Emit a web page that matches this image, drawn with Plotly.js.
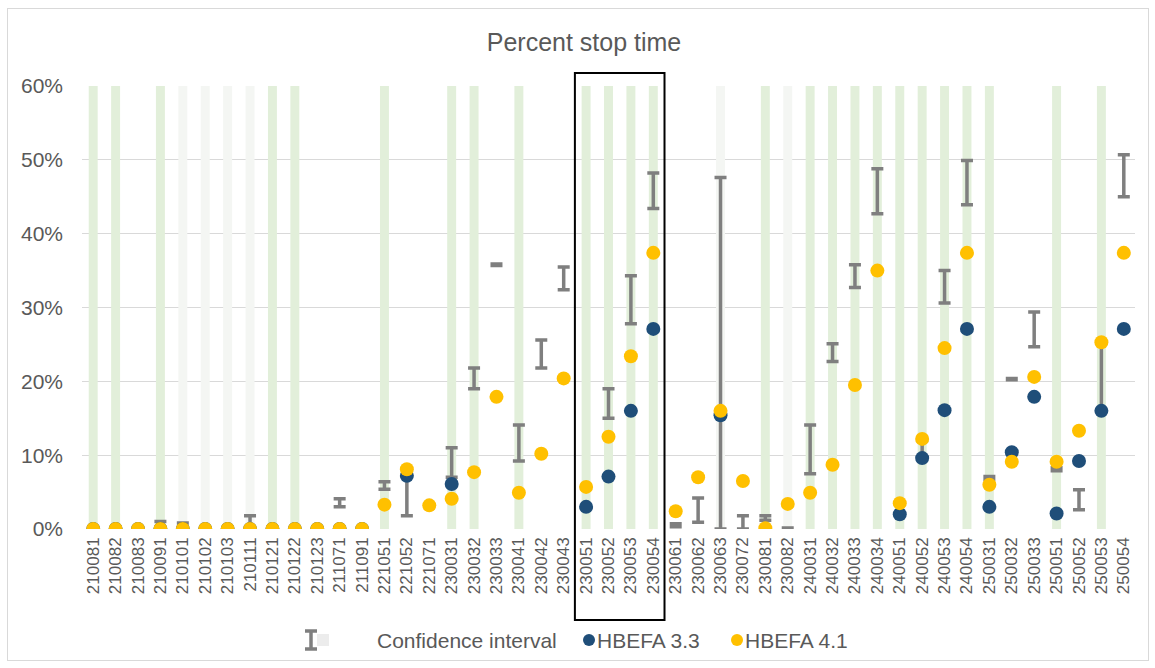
<!DOCTYPE html>
<html>
<head>
<meta charset="utf-8">
<script src="https://cdn.plot.ly/plotly-3.0.1.min.js"></script>
<style>
  html, body { margin: 0; padding: 0; background: #fff; }
  #wrap { position: relative; width: 1155px; height: 668px; }
  #chart { position: absolute; left: 0; top: 0; width: 1155px; height: 668px; }
  #frame { position: absolute; left: 7px; top: 8px; width: 1140px; height: 651px; border: 1px solid #d9d9d9; pointer-events: none; }
</style>
</head>
<body>
<div id="wrap"><div id="chart"></div><div id="frame"></div></div>
<script>
const categories = ['210081','210082','210083','210091','210101','210102','210103','210111','210121','210122','210123','211071','211091','221051','221052','221071','230031','230032','230033','230041','230042','230043','230051','230052','230053','230054','230061','230062','230063','230072','230081','230082','240031','240032','240033','240034','240051','240052','240053','240054','250031','250032','250033','250051','250052','250053','250054'];

const hbefa41 = [0,0,0,0,0,0,0,0,0,0,0,0,0,3.3,8.1,3.2,4.1,7.7,17.9,4.9,10.2,20.4,5.7,12.5,23.4,37.4,2.4,7.0,16.0,6.5,0.1,3.4,4.9,8.7,19.5,35.0,3.5,12.2,24.5,37.4,6.0,9.1,20.6,9.1,13.3,25.3,37.4];

const hbefa33 = [0,0,0,0,0,0,0,0,0,0,0,0,0,null,7.2,null,6.1,null,null,null,null,null,3.0,7.1,16.0,27.1,null,null,15.4,null,null,null,null,null,null,null,2.0,9.6,16.1,27.1,3.0,10.4,17.9,2.1,9.2,16.0,27.1];

const ciLow  = [null,null,null,0,0,null,null,0,null,null,null,3.0,null,5.4,1.8,null,7.0,19.0,35.7,9.2,21.8,32.4,null,15.0,27.8,43.4,0.3,0.9,0,0,1.2,0.05,7.5,22.7,32.7,42.7,null,9.8,30.6,43.9,6.7,20.2,24.7,7.9,2.6,16.0,45.0];
const ciHigh = [null,null,null,1.0,0.8,null,null,1.8,null,null,null,4.1,null,6.4,7.3,null,11.0,21.8,35.9,14.1,25.6,35.5,null,19.0,34.3,48.2,0.7,4.2,47.6,1.8,1.8,0.15,14.1,25.1,35.8,48.8,null,12.0,35.0,49.9,7.1,20.4,29.4,8.3,5.3,25.3,50.7];

// background column flags: 'g' = green, 'f' = faint grey, '' = none
const band = ['g','g','','g','f','f','f','f','g','g','','','','g','','','g','g','','g','','','g','g','g','g','','','f','','g','f','g','g','g','g','g','g','g','g','g','','','g','','g',''];

const highlightFrom = '230051';
const highlightTo = '230054';

const yMax = 60;
const grey = '#595959';
const font = 'Liberation Sans, Arial, sans-serif';

const traces = [
  {
    type: 'bar', x: categories, y: band.map(b => b === 'g' ? yMax : null),
    width: 0.4, marker: {color: '#e2efda'}, hoverinfo: 'skip', showlegend: false
  },
  {
    type: 'bar', x: categories, y: band.map(b => b === 'f' ? yMax : null),
    width: 0.4, marker: {color: '#f4f6f3'}, hoverinfo: 'skip', showlegend: false
  },
  {
    type: 'scatter', mode: 'markers', x: categories, y: ciLow,
    marker: {size: 1, color: 'rgba(0,0,0,0)'},
    error_y: {type: 'data', symmetric: false,
      array: ciHigh.map((h, i) => h == null ? null : h - ciLow[i]),
      arrayminus: ciLow.map(v => v == null ? null : 0),
      color: '#7f7f7f', thickness: 3.5, width: 6},
    hoverinfo: 'skip', showlegend: false
  },
  {
    type: 'scatter', mode: 'markers', x: categories, y: hbefa33, name: 'HBEFA 3.3',
    marker: {size: 14, color: '#1f4e79'}, showlegend: false
  },
  {
    type: 'scatter', mode: 'markers', x: categories, y: hbefa41, name: 'HBEFA 4.1',
    marker: {size: 14, color: '#ffc000'}, showlegend: false
  }
];

// layout geometry
const W = 1155, H = 668;
const L = 82, R = 20, T = 86, B = 139;
const pw = W - L - R, ph = H - T - B;
const px = v => (v - L) / pw;
const py = v => (H - B - v) / ph;
const n = categories.length;
const i0 = categories.indexOf(highlightFrom), i1 = categories.indexOf(highlightTo);

const legY = 640;
const shapes = [
  {type: 'rect', xref: 'paper', yref: 'paper', x0: i0 / n, x1: (i1 + 1) / n, y0: py(620), y1: py(73),
   line: {color: '#000', width: 2}, fillcolor: 'rgba(0,0,0,0)'},
  // legend: confidence interval icon
  {type: 'rect', xref: 'paper', yref: 'paper', x0: px(317), x1: px(329), y0: py(legY + 6), y1: py(legY - 6),
   line: {width: 0}, fillcolor: '#ececec'},
  {type: 'line', xref: 'paper', yref: 'paper', x0: px(311), x1: px(311), y0: py(legY + 9), y1: py(legY - 9),
   line: {color: '#7f7f7f', width: 3.5}},
  {type: 'line', xref: 'paper', yref: 'paper', x0: px(305), x1: px(317), y0: py(legY - 9), y1: py(legY - 9),
   line: {color: '#7f7f7f', width: 3.5}},
  {type: 'line', xref: 'paper', yref: 'paper', x0: px(305), x1: px(317), y0: py(legY + 9), y1: py(legY + 9),
   line: {color: '#7f7f7f', width: 3.5}},
  {type: 'circle', xref: 'paper', yref: 'paper', x0: px(583), x1: px(595), y0: py(legY + 6), y1: py(legY - 6),
   line: {width: 0}, fillcolor: '#1f4e79'},
  {type: 'circle', xref: 'paper', yref: 'paper', x0: px(731), x1: px(743), y0: py(legY + 6), y1: py(legY - 6),
   line: {width: 0}, fillcolor: '#ffc000'}
];

const annotations = [
  {text: 'Confidence interval', xref: 'paper', yref: 'paper', x: px(375), y: py(legY), xanchor: 'left', yanchor: 'middle', showarrow: false, font: {family: font, size: 21, color: grey}},
  {text: 'HBEFA 3.3', xref: 'paper', yref: 'paper', x: px(595), y: py(legY), xanchor: 'left', yanchor: 'middle', showarrow: false, font: {family: font, size: 21, color: grey}},
  {text: 'HBEFA 4.1', xref: 'paper', yref: 'paper', x: px(743), y: py(legY), xanchor: 'left', yanchor: 'middle', showarrow: false, font: {family: font, size: 21, color: grey}}
];

const layout = {
  width: W, height: H,
  margin: {l: L, r: R, t: T, b: B, pad: 0},
  paper_bgcolor: 'rgba(0,0,0,0)', plot_bgcolor: 'rgba(0,0,0,0)',
  font: {family: font, color: grey},
  title: {text: 'Percent stop time', font: {family: font, size: 25, color: grey},
          xref: 'container', yref: 'container', x: 584 / W, y: 1 - 42 / H, xanchor: 'center', yanchor: 'middle'},
  barmode: 'overlay',
  showlegend: false,
  xaxis: {type: 'category', tickangle: -90, tickfont: {family: font, size: 17, color: grey},
          showgrid: false, zeroline: false, showline: false, ticks: '', ticklabelstandoff: 4,
          range: [-0.5, n - 0.5], fixedrange: true},
  yaxis: {range: [0, yMax], dtick: 10, ticksuffix: '%', tickfont: {family: font, size: 21, color: grey},
          gridcolor: '#d9d9d9', gridwidth: 1, zeroline: false, showline: false, ticks: '',
          ticklabelstandoff: 18, fixedrange: true},
  shapes: shapes,
  annotations: annotations
};

Plotly.newPlot('chart', traces, layout, {displayModeBar: false, staticPlot: true});
</script>
</body>
</html>
